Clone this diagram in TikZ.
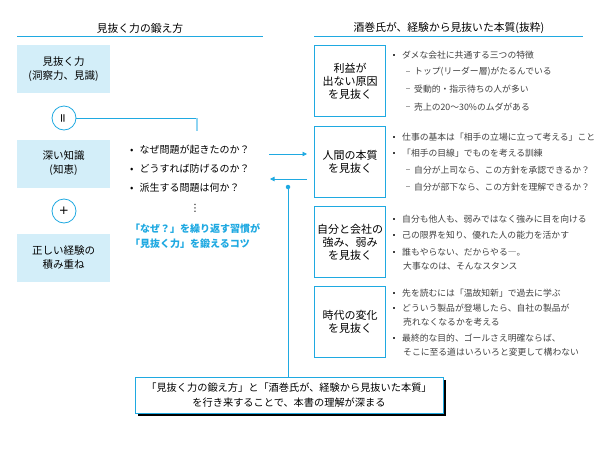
\documentclass[tikz,border=0pt]{standalone}
\usepackage{fontspec}
\setmainfont{Noto Sans CJK JP}
\newfontfamily\dejavu{DejaVu Sans}
\usetikzlibrary{arrows.meta,shadows}
\definecolor{mblue}{HTML}{1FA9E1}
\definecolor{lfill}{HTML}{D3EEF9}
\definecolor{tgray}{HTML}{404040}
\definecolor{lblue}{HTML}{8ED4F2}
\definecolor{dgray}{HTML}{A6A6A6}
\newcommand{\sqb}{\textcolor{tgray}{\rule[2.6pt]{2pt}{2pt}}\hspace{7pt}}
\newcommand{\subd}{\textcolor{dgray}{\rule[3.2pt]{4pt}{0.7pt}}\hspace{4pt}}
\tikzset{
 ttl/.style={font=\fontsize{10.8}{13}\selectfont, inner sep=0},
 lbox/.style={fill=lfill, minimum width=93pt, minimum height=48pt, align=center, font=\fontsize{10.5}{14}\selectfont, inner sep=0},
 rbox/.style={draw=mblue, line width=1pt, fill=white, minimum width=71pt, minimum height=71pt, align=center, font=\fontsize{11}{13}\selectfont, inner sep=0},
 circ/.style={circle, draw=mblue, line width=0.8pt, fill=white, minimum size=24pt, inner sep=0, font=\dejavu\fontsize{12}{14}\selectfont},
 litem/.style={anchor=west, font=\fontsize{10}{12}\selectfont, inner sep=0},
 ritem/.style={anchor=west, font=\fontsize{8.8}{12}\selectfont, text=tgray, inner sep=0},
 bluet/.style={anchor=west, font=\fontsize{10}{12}\selectfont\bfseries, text=mblue, inner sep=0},
 conn/.style={draw=mblue, line width=0.8pt},
 tip/.style={-{Triangle[length=4.5pt,width=4.5pt]}},
 uline/.style={draw=mblue, line width=0.8pt},
}
\begin{document}
\begin{tikzpicture}[x=1pt,y=-1pt]
\useasboundingbox (0,0) rectangle (600,450);
% titles
\node[ttl] (t1) at (140,28) {見抜く力の鍛え方};
\node[ttl] (t2) at (449,28) {酒巻氏が、経験から見抜いた本質(抜粋)};
\coordinate (u1a) at (17,36); \coordinate (u1b) at (263,36);
\coordinate (u2a) at (314,36); \coordinate (u2b) at (583,36);
\draw[uline] (u1a) -- (u1b);
\draw[uline] (u2a) -- (u2b);
% left column
\node[lbox] (l1) at (63.5,69) {見抜く力\\(洞察力、見識)};
\node[lbox] (l2) at (63.5,163.5) {深い知識\\(知恵)};
\node[lbox] (l3) at (63.5,257.5) {正しい経験の\\積み重ね};
\node[circ] (c1) at (64,118) {\rotatebox{90}{=}};
\node[circ] (c2) at (64,211) {+};
% left list
\node[litem] (q1) at (130,150) {•\hspace{6pt}なぜ問題が起きたのか？};
\node[litem] (q2) at (130,169) {•\hspace{6pt}どうすれば防げるのか？};
\node[litem] (q3) at (130,188) {•\hspace{6pt}派生する問題は何か？};
\node[inner sep=0, font=\dejavu\fontsize{10}{12}\selectfont] (vd) at (195,208) {⋮};
\node[bluet] (b1) at (130,229) {「なぜ？」を繰り返す習慣が};
\node[bluet] (b2) at (130,244) {「見抜く力」を鍛えるコツ};
% connector from circle
\coordinate (k) at (197,131);
\draw[conn] (c1.east) -- (k |- c1.east);
\draw[lblue, line width=1.8pt] (k |- c1.east) -- (k);
% right boxes
\node[rbox] (r1) at (350,81) {利益が\\出ない原因\\を見抜く};
\node[rbox] (r2) at (350,162) {人間の本質\\を見抜く};
\node[rbox] (r3) at (350,242) {自分と会社の\\強み、弱み\\を見抜く};
\node[rbox] (r4) at (350,321.5) {時代の変化\\を見抜く};
% right lists
\node[ritem] (i11) at (393,55) {\sqb ダメな会社に共通する三つの特徴};
\node[ritem] (i12) at (406,72) {\subd トップ(リーダー層)がたるんでいる};
\node[ritem] (i13) at (406,89) {\subd 受動的・指示待ちの人が多い};
\node[ritem] (i14) at (406,107) {\subd 売上の20～30\%のムダがある};
\node[ritem] (i21) at (393,137) {\sqb 仕事の基本は「相手の立場に立って考える」こと};
\node[ritem] (i22) at (393,153) {\sqb 「相手の目線」でものを考える訓練};
\node[ritem] (i23) at (406,170) {\subd 自分が上司なら、この方針を承認できるか？};
\node[ritem] (i24) at (406,187) {\subd 自分が部下なら、この方針を理解できるか？};
\node[ritem] (i31) at (393,219) {\sqb 自分も他人も、弱みではなく強みに目を向ける};
\node[ritem] (i32) at (393,235) {\sqb 己の限界を知り、優れた人の能力を活かす};
\node[ritem] (i33) at (393,252) {\sqb 誰もやらない、だからやる―。};
\node[ritem] (i34) at (403,266) {大事なのは、そんなスタンス};
\node[ritem] (i41) at (393,293) {\sqb 先を読むには「温故知新」で過去に学ぶ};
\node[ritem] (i42) at (393,308) {\sqb どういう製品が登場したら、自社の製品が};
\node[ritem] (i43) at (403,322) {売れなくなるかを考える};
\node[ritem] (i44) at (393,338) {\sqb 最終的な目的、ゴールさえ明確ならば、};
\node[ritem] (i45) at (403,352) {そこに至る道はいろいろと変更して構わない};
% bottom box
\node[draw=mblue, line width=1pt, fill=white, minimum width=308pt, minimum height=36pt, align=center, inner sep=0,
  font=\fontsize{10.2}{15}\selectfont,
  drop shadow={shadow xshift=3pt, shadow yshift=-3pt, fill=black, opacity=1}] (bb) at (289,395)
  {「見抜く力の鍛え方」と「酒巻氏が、経験から見抜いた本質」\\を行き来することで、本書の理解が深まる};
% arrows
\coordinate (a1s) at (269,154);
\coordinate (a2e) at (270,179);
\draw[conn,tip,shorten >=7pt] (a1s) -- (a1s -| r2.west);
\draw[conn,tip,shorten <=7pt] (a2e -| r2.west) -- (a2e);
% vertical link to bottom box
\node[circle, fill=mblue, inner sep=0, minimum size=4.5pt] (dt) at (288,187) {};
\draw[conn] (dt.center) -- (dt.center |- bb.north);
\end{tikzpicture}
\end{document}
